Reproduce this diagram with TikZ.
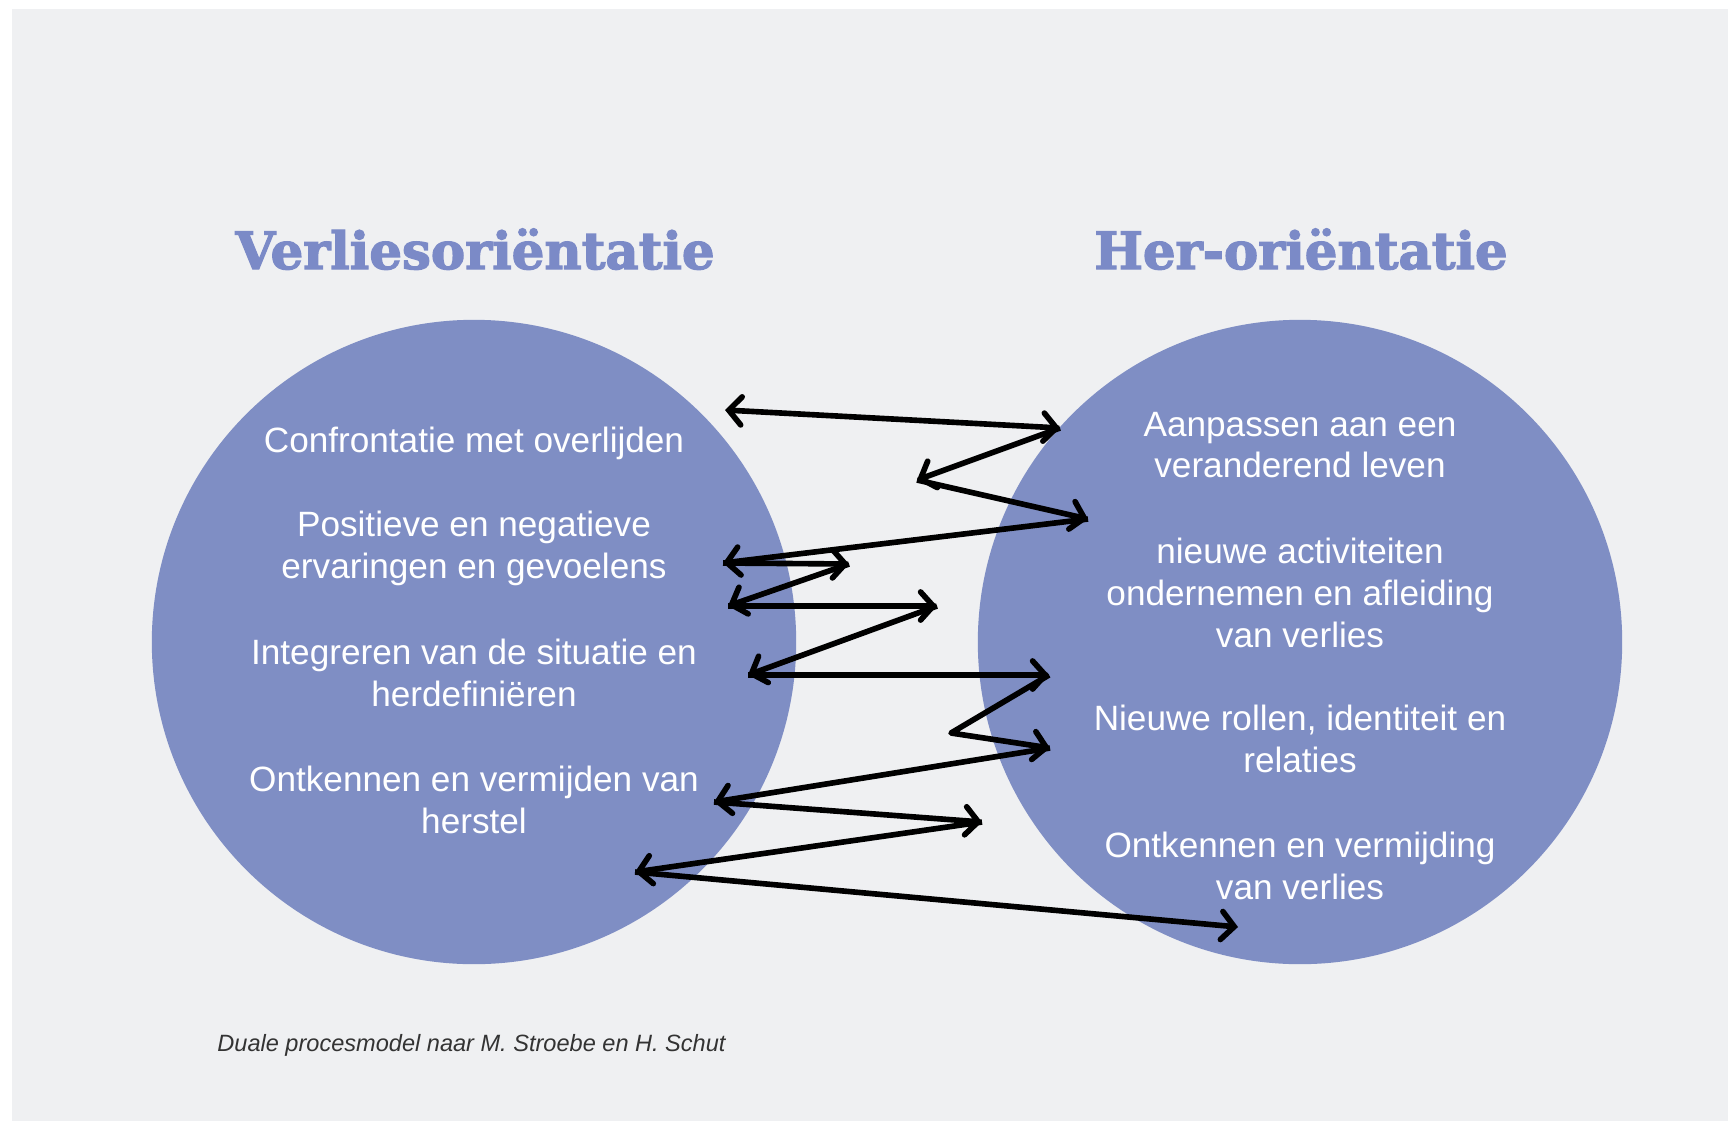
\documentclass[tikz,border=0pt]{standalone}
\usepackage{fontspec}
\setmainfont{Liberation Sans}
\newfontfamily\titlefont[BoldFeatures={FakeBold=2.5}]{DejaVu Serif}
\usetikzlibrary{arrows.meta}

\definecolor{bggray}{HTML}{EFF0F2}
\definecolor{circleblue}{HTML}{7F8EC4}
\definecolor{titleblue}{HTML}{7B8AC7}
\definecolor{captiongray}{HTML}{333333}

\tikzset{
    orientation/.style={circle, fill=circleblue, minimum size=6.44cm, inner sep=0pt},
    itemtext/.style={text=white, align=center, font=\fontsize{10}{11.9}\selectfont},
    heading/.style={text=titleblue, anchor=base, font=\titlefont\bfseries\fontsize{14.6}{18}\selectfont},
    swing/.style={line width=1.6pt, line join=round,
        -{Straight Barb[length=3.6pt,width=8pt,line cap=round]}},
    swingboth/.style={swing, {Straight Barb[length=3.6pt,width=8pt,line cap=round]}-{Straight Barb[length=3.6pt,width=8pt,line cap=round]}}
}

\begin{document}
\begin{tikzpicture}[x=0.01cm, y=-0.01cm]
    % Background
    \fill[white] (0,0) rectangle (1728,1121);
    \fill[bggray] (12,9) rectangle (1728,1121);
    \useasboundingbox (0,0) rectangle (1728,1121);

    % Headings
    \node[heading] (lossTitle) at (475,269) {Verliesoriëntatie};
    \node[heading] (restoreTitle) at (1301,269) {Her-oriëntatie};

    % Circles
    \node[orientation] (loss) at (474,642) {};
    \node[orientation] (restore) at (1300,642) {};

    % Loss side
    \node[itemtext] (l1) at (474,443) {Confrontatie met overlijden};
    \node[itemtext] (l2) at (474,548) {Positieve en negatieve\\ervaringen en gevoelens};
    \node[itemtext] (l3) at (474,673) {Integreren van de situatie en\\herdefiniëren};
    \node[itemtext] (l4) at (474,800) {Ontkennen en vermijden van\\herstel};

    % Restoration side
    \node[itemtext] (r1) at (1300,445) {Aanpassen aan een\\veranderend leven};
    \node[itemtext] (r2) at (1300,593) {nieuwe activiteiten\\ondernemen en afleiding\\van verlies};
    \node[itemtext] (r3) at (1300,739) {Nieuwe rollen, identiteit en\\relaties};
    \node[itemtext] (r4) at (1300,866) {Ontkennen en vermijding\\van verlies};

    % Oscillation between the two
    \coordinate (z1) at (725,410);
    \coordinate (z2) at (1060,428);
    \coordinate (z3) at (917,480);
    \coordinate (z4) at (1088,519);
    \coordinate (z5) at (723,563);
    \coordinate (z6) at (849,564);
    \coordinate (z7) at (728,606);
    \coordinate (z8) at (937,606);
    \coordinate (z9) at (748,675);
    \coordinate (z10) at (1049,675);
    \coordinate (z11) at (951,733);
    \coordinate (z12) at (1050,748);
    \coordinate (z13) at (714,802);
    \coordinate (z14) at (982,822);
    \coordinate (z15) at (635,872);
    \coordinate (z16) at (1238,927);

    \draw[swingboth] (z1) -- (z2);
    \foreach \a/\b in {z2/z3, z3/z4, z4/z5, z5/z6, z6/z7, z7/z8, z8/z9, z9/z10,
                       z12/z13, z13/z14, z14/z15, z15/z16}
        \draw[swing] (\a) -- (\b);
    \draw[swing] (z10) -- (z11) -- (z12);

    % Source
    \node[anchor=base west, text=captiongray, font=\itshape\fontsize{6.7}{8}\selectfont]
        (source) at (205,1051) {Duale procesmodel naar M. Stroebe en H. Schut};
\end{tikzpicture}
\end{document}
